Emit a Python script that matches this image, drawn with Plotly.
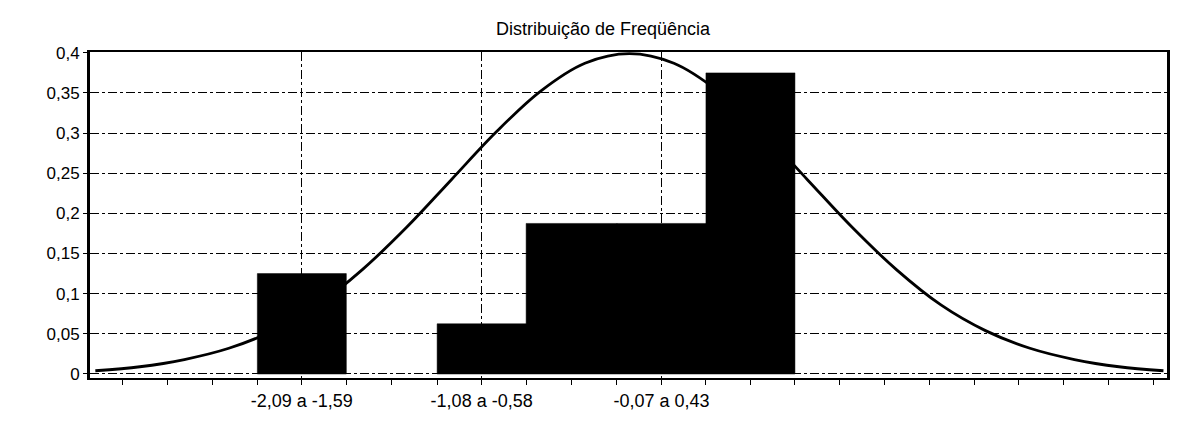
import plotly.graph_objects as go

# ---- data ----
bin_lower = [-2.09, -1.59, -1.08, -0.58, -0.07, 0.43]
bin_upper = [-1.59, -1.08, -0.58, -0.07, 0.43, 0.93]
frequencies = [0.125, 0.0, 0.0625, 0.1875, 0.1875, 0.375]
category_labels = ["-2,09 a -1,59", "-1,59 a -1,08", "-1,08 a -0,58",
                   "-0,58 a -0,07", "-0,07 a 0,43", "0,43 a 0,93"]

curve_z = [-3.0, -2.75, -2.5, -2.25, -2.0, -1.75, -1.5, -1.25, -1.0, -0.75,
           -0.5, -0.25, 0.0, 0.25, 0.5, 0.75, 1.0, 1.25, 1.5, 1.75, 2.0,
           2.25, 2.5, 2.75, 3.0]
curve_density = [0.004, 0.009, 0.018, 0.032, 0.054, 0.086, 0.130, 0.183,
                 0.242, 0.301, 0.352, 0.387, 0.399, 0.387, 0.352, 0.301,
                 0.242, 0.183, 0.130, 0.086, 0.054, 0.032, 0.018, 0.009,
                 0.004]

title_text = "Distribuição de Freqüência"

# ---- derived ----
centers = [(a + b) / 2 for a, b in zip(bin_lower, bin_upper)]
widths = [b - a for a, b in zip(bin_lower, bin_upper)]
shown_idx = [0, 2, 4]
tick_vals = [centers[i] for i in shown_idx]
tick_text = [category_labels[i] for i in shown_idx]

half = sum(widths) / len(widths) / 2
minor_vals = sorted(set([round(v, 4) for v in bin_lower + bin_upper + centers]))
extra = []
v = bin_lower[0] - half
while v > -3.03:
    extra.append(v)
    v -= half
v = bin_upper[-1] + half
while v < 3.02:
    extra.append(v)
    v += half
minor_vals = sorted(minor_vals + extra)

# histogram columns as closed polygons (drawn after the curve so they cover it)
bar_x, bar_y = [], []
for lo, hi, f in zip(bin_lower, bin_upper, frequencies):
    if f <= 0:
        continue
    bar_x += [lo, lo, hi, hi, lo, None]
    bar_y += [0, f, f, 0, 0, None]

font_family = "Liberation Sans, Arial, sans-serif"

fig = go.Figure()
fig.add_trace(go.Scatter(
    x=curve_z, y=curve_density, mode="lines",
    line=dict(color="black", width=2.8, shape="spline"),
    showlegend=False, hoverinfo="skip",
))
fig.add_trace(go.Scatter(
    x=bar_x, y=bar_y, mode="lines", fill="toself", fillcolor="black",
    line=dict(color="black", width=0.5),
    showlegend=False, hoverinfo="skip",
))

fig.update_layout(
    width=1192, height=428,
    margin=dict(l=90, r=25, t=52, b=50),
    paper_bgcolor="white", plot_bgcolor="white",
    separators=", ",
    font=dict(family=font_family, size=17, color="black"),
    title=dict(text=title_text, x=603 / 1192, xref="container", xanchor="center",
               y=1 - 29 / 428, yref="container", yanchor="middle",
               font=dict(size=18, color="black", family=font_family)),
)
fig.update_xaxes(
    range=[-3.03, 3.02],
    tickmode="array", tickvals=tick_vals, ticktext=tick_text,
    ticks="outside", ticklen=5, tickcolor="black", tickwidth=1,
    showgrid=True, gridcolor="black", gridwidth=1, griddash="dashdot",
    showline=True, linecolor="black", linewidth=2, mirror=True,
    zeroline=False,
    minor=dict(tickvals=minor_vals, ticks="outside", ticklen=5,
               tickcolor="black", showgrid=False),
    tickfont=dict(size=18, color="black"),
)
fig.update_yaxes(
    range=[-0.005, 0.401], dtick=0.05, tick0=0,
    ticks="outside", ticklen=4, tickcolor="black",
    showgrid=True, gridcolor="black", gridwidth=1, griddash="dashdot",
    showline=True, linecolor="black", linewidth=3, mirror=True,
    zeroline=False,
    tickfont=dict(size=17, color="black"),
)

fig.write_html("out.html", config={"displayModeBar": False},
               post_script="document.body.style.margin='0px';")
